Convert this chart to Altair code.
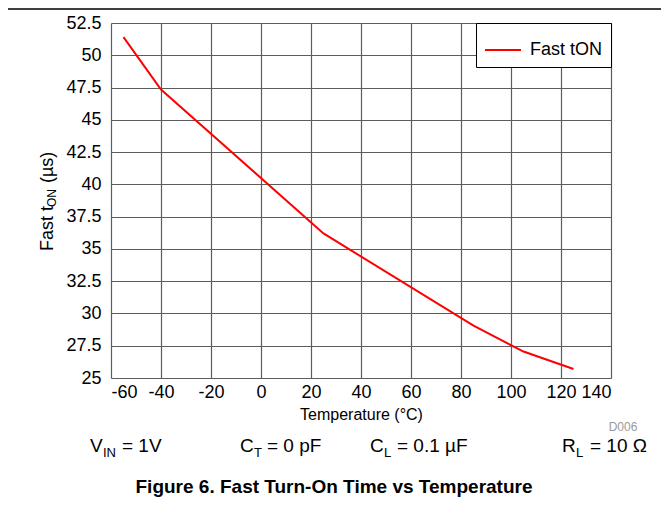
import altair as alt
import pandas as pd

# ---- data ----
temps = [-55, -40, 25, 85, 105, 125]
ton_us = [51.4, 47.35, 36.2, 29.05, 27.05, 25.7]
series = ["Fast tON"] * len(temps)
x_ticks = [-60, -40, -20, 0, 20, 40, 60, 80, 100, 120, 140]
y_ticks = [25, 27.5, 30, 32.5, 35, 37.5, 40, 42.5, 45, 47.5, 50, 52.5]

df = pd.DataFrame({"T": temps, "ton": ton_us, "series": series})
anchor = pd.DataFrame({"a": [0]})

FONT = "Liberation Sans"
OX, OY = 111, 23          # plot origin on the page
W, H = 500, 355
GRID = "#5c5c5c"

line = alt.Chart(df).mark_line(strokeWidth=2).encode(
    x=alt.X("T:Q",
            scale=alt.Scale(domain=[-60, 140], nice=False, zero=False),
            axis=alt.Axis(values=x_ticks, labelExpr="'' + datum.value",
                          title="Temperature (°C)", titleFontSize=16,
                          titleFontWeight="normal", titleFont=FONT,
                          titlePadding=5, labelFont=FONT, labelFontSize=18,
                          labelColor="black", titleColor="black",
                          labelPadding=5, ticks=False, domain=False,
                          gridColor=GRID, gridWidth=1.2, gridOpacity=1)),
    y=alt.Y("ton:Q",
            scale=alt.Scale(domain=[25, 52.5], nice=False, zero=False),
            axis=alt.Axis(values=y_ticks, format=".1~f", title=None,
                          labelFont=FONT, labelFontSize=18, labelColor="black",
                          labelPadding=10, ticks=False, domain=False,
                          gridColor=GRID, gridWidth=1.2, gridOpacity=1)),
    color=alt.Color("series:N", scale=alt.Scale(range=["#ff0000"]),
                    legend=alt.Legend(title=None, orient="top-right", offset=0,
                                      fillColor="white", strokeColor="black",
                                      padding=8, symbolType="stroke",
                                      symbolSize=1296, symbolStrokeWidth=2,
                                      labelFont=FONT, labelFontSize=18,
                                      labelColor="black", labelOffset=8)),
)


def label(txt, x, y, size=19, weight="normal", color="black", angle=0, align="left"):
    return alt.Chart(anchor).mark_text(
        text=txt, font=FONT, fontSize=size, fontWeight=weight, color=color,
        angle=angle, align=align, baseline="alphabetic"
    ).encode(x=alt.value(x - OX), y=alt.value(y - OY))


texts = [
    # rotated y-axis title: Fast t_ON (µs)
    label("Fast t", 53, 251, size=18, angle=270),
    label("ON", 56, 207, size=12, angle=270),
    label("(µs)", 53, 183, size=18, angle=270),
    # conditions row
    label("V", 90, 452), label("IN", 103, 457, size=13), label("= 1V", 122, 452),
    label("C", 240, 452), label("T", 254, 457, size=13), label("= 0 pF", 267, 452),
    label("C", 370, 452), label("L", 384, 457, size=13), label("= 0.1 µF", 397, 452),
    label("R", 562, 452), label("L", 576, 457, size=13), label("= 10 Ω", 590, 452),
    # tag and figure title
    label("D006", 623, 431, size=12, color="#9a9a9a", align="center"),
    label("Figure 6. Fast Turn-On Time vs Temperature", 334, 493, size=19,
          weight="bold", align="center"),
]

top_rule = alt.Chart(anchor).mark_rule(color="black", strokeWidth=1.5).encode(
    x=alt.value(0 - OX), x2=alt.value(669 - OX), y=alt.value(9 - OY))

chart = alt.layer(line, top_rule, *texts).properties(
    width=W, height=H,
    autosize=alt.AutoSizeParams(type="none"),
    padding={"left": OX - 8, "top": OY - 8, "right": 653 - (OX - 8) - W,
             "bottom": 492 - (OY - 8) - H},
).configure_view(stroke="black", strokeWidth=2.5).configure_legend(
    strokeWidth=2).configure(background="white")

chart.save("out.html", embed_options={"renderer": "svg", "actions": False})
